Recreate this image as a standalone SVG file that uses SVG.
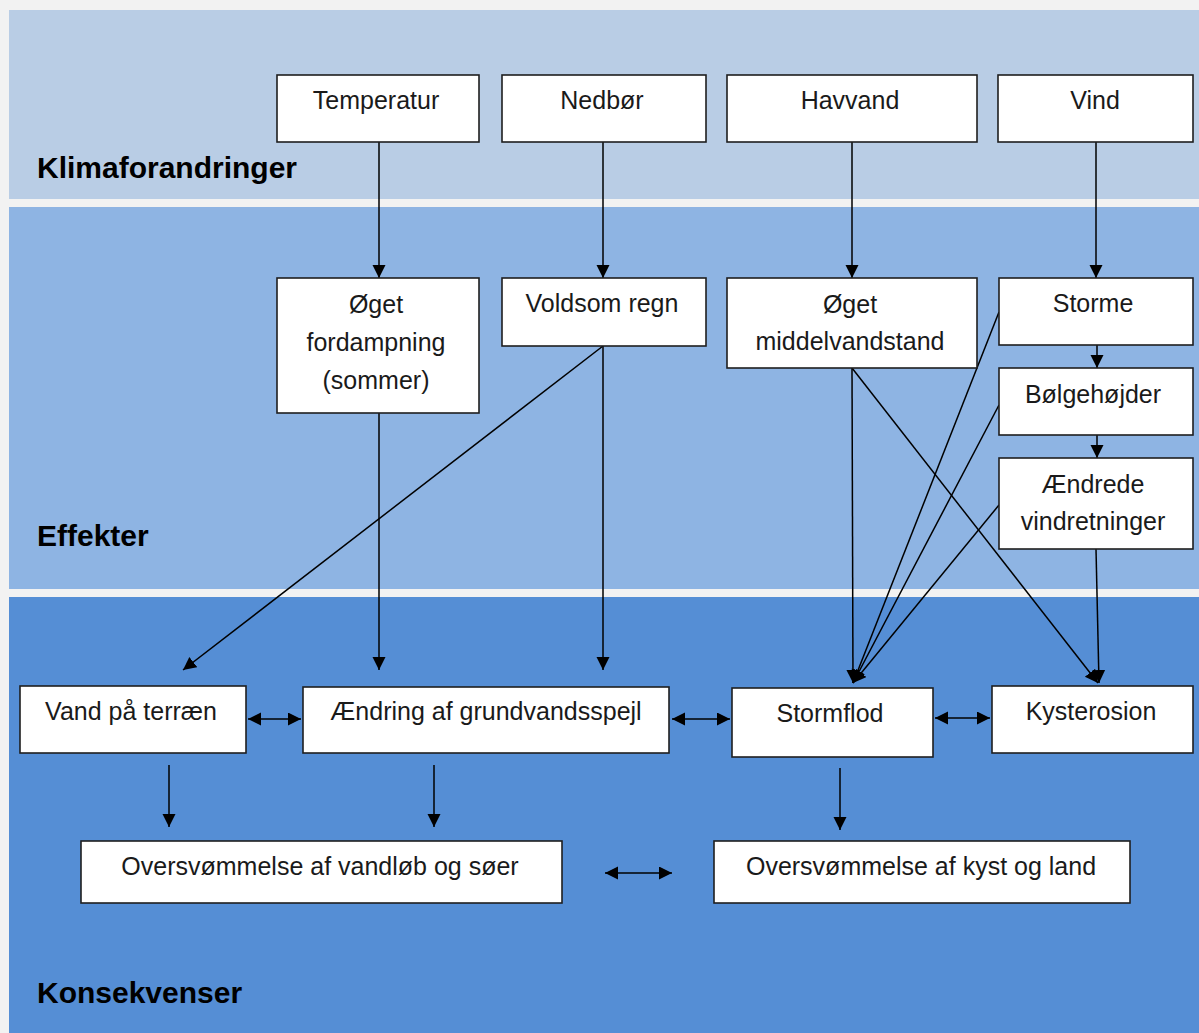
<svg xmlns="http://www.w3.org/2000/svg" width="1199" height="1033" viewBox="0 0 1199 1033">
<style>
.box{fill:#ffffff;stroke:#1f1f1f;stroke-width:1.6}
.t{font-family:"Liberation Sans",Arial,sans-serif;font-size:25px;fill:#1a1a1a;text-anchor:middle}
.band{font-family:"Liberation Sans",Arial,sans-serif;font-size:30px;font-weight:bold;fill:#000}
.c line{stroke:#000;stroke-width:1.5;fill:none}
</style>
<defs>
<marker id="ah" markerUnits="userSpaceOnUse" markerWidth="14" markerHeight="14" refX="13" refY="6.5" orient="auto-start-reverse">
<path d="M0,0 L13,6.5 L0,13 z" fill="#000"/>
</marker>
</defs>
<rect x="0" y="0" width="1199" height="1033" fill="#f2f2f2"/>
<g id="bands">
<rect x="9" y="10" width="1190" height="189" fill="#b9cde5"/>
<rect x="9" y="207" width="1190" height="382" fill="#8eb4e3"/>
<rect x="9" y="597" width="1190" height="436" fill="#558ed5"/>
<text class="band" x="37" y="178">Klimaforandringer</text>
<text class="band" x="37" y="546">Effekter</text>
<text class="band" x="37" y="1003">Konsekvenser</text>
</g>
<g class="c" id="connectors">
<line x1="379" y1="142" x2="379" y2="278" marker-end="url(#ah)"/>
<line x1="603" y1="142" x2="603" y2="278" marker-end="url(#ah)"/>
<line x1="852" y1="142" x2="852" y2="278" marker-end="url(#ah)"/>
<line x1="1096" y1="142" x2="1096" y2="278" marker-end="url(#ah)"/>
<line x1="1097" y1="345" x2="1097" y2="368" marker-end="url(#ah)"/>
<line x1="1097" y1="435" x2="1097" y2="458" marker-end="url(#ah)"/>
<line x1="379" y1="413" x2="379" y2="670" marker-end="url(#ah)"/>
<line x1="603" y1="346" x2="183" y2="670" marker-end="url(#ah)"/>
<line x1="603" y1="346" x2="603" y2="670" marker-end="url(#ah)"/>
<line x1="852" y1="368" x2="853" y2="683" marker-end="url(#ah)"/>
<line x1="852" y1="368" x2="1098" y2="683" marker-end="url(#ah)"/>
<line x1="999" y1="312" x2="853" y2="683" marker-end="url(#ah)"/>
<line x1="999" y1="405" x2="853" y2="683" marker-end="url(#ah)"/>
<line x1="999" y1="505" x2="853" y2="683" marker-end="url(#ah)"/>
<line x1="1096" y1="549" x2="1099" y2="683" marker-end="url(#ah)"/>
<line x1="248" y1="719" x2="301" y2="719" marker-start="url(#ah)" marker-end="url(#ah)"/>
<line x1="672" y1="719" x2="730" y2="719" marker-start="url(#ah)" marker-end="url(#ah)"/>
<line x1="935" y1="718" x2="990" y2="718" marker-start="url(#ah)" marker-end="url(#ah)"/>
<line x1="169" y1="765" x2="169" y2="827" marker-end="url(#ah)"/>
<line x1="434" y1="765" x2="434" y2="827" marker-end="url(#ah)"/>
<line x1="840" y1="768" x2="840" y2="830" marker-end="url(#ah)"/>
<line x1="605" y1="873" x2="672" y2="873" marker-start="url(#ah)" marker-end="url(#ah)"/>
</g>
<g id="temperatur"><rect class="box" x="277" y="75" width="202" height="67"/><text class="t" x="376" y="109">Temperatur</text></g>
<g id="nedbor"><rect class="box" x="502" y="75" width="204" height="67"/><text class="t" x="602" y="109">Nedbør</text></g>
<g id="havvand"><rect class="box" x="727" y="75" width="250" height="67"/><text class="t" x="850" y="109">Havvand</text></g>
<g id="vind"><rect class="box" x="998" y="75" width="195" height="67"/><text class="t" x="1095" y="109">Vind</text></g>
<g id="fordampning"><rect class="box" x="277" y="278" width="202" height="135"/><text class="t" x="376" y="313">Øget</text><text class="t" x="376" y="351">fordampning</text><text class="t" x="376" y="389">(sommer)</text></g>
<g id="voldsom"><rect class="box" x="502" y="278" width="204" height="68"/><text class="t" x="602" y="312">Voldsom regn</text></g>
<g id="middelvandstand"><rect class="box" x="727" y="278" width="250" height="90"/><text class="t" x="850" y="313">Øget</text><text class="t" x="850" y="350">middelvandstand</text></g>
<g id="storme"><rect class="box" x="999" y="278" width="194" height="67"/><text class="t" x="1093" y="312">Storme</text></g>
<g id="bolgehojder"><rect class="box" x="999" y="368" width="194" height="67"/><text class="t" x="1093" y="403">Bølgehøjder</text></g>
<g id="vindretninger"><rect class="box" x="999" y="458" width="194" height="91"/><text class="t" x="1093" y="493">Ændrede</text><text class="t" x="1093" y="530">vindretninger</text></g>
<g id="vandterraen"><rect class="box" x="20" y="686" width="226" height="67"/><text class="t" x="131" y="720">Vand på terræn</text></g>
<g id="grundvand"><rect class="box" x="303" y="687" width="366" height="66"/><text class="t" x="486" y="720">Ændring af grundvandsspejl</text></g>
<g id="stormflod"><rect class="box" x="732" y="688" width="201" height="69"/><text class="t" x="830" y="722">Stormflod</text></g>
<g id="kysterosion"><rect class="box" x="992" y="686" width="201" height="67"/><text class="t" x="1091" y="720">Kysterosion</text></g>
<g id="oversvommelse-vandlob"><rect class="box" x="81" y="841" width="481" height="62"/><text class="t" x="320" y="875">Oversvømmelse af vandløb og søer</text></g>
<g id="oversvommelse-kyst"><rect class="box" x="714" y="841" width="416" height="62"/><text class="t" x="921" y="875">Oversvømmelse af kyst og land</text></g>
</svg>
